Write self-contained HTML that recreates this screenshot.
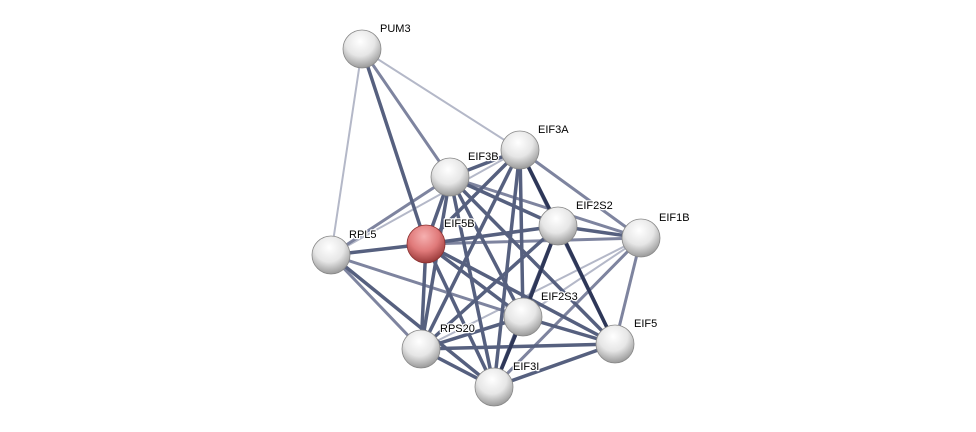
<!DOCTYPE html>
<html><head><style>
html,body{margin:0;padding:0;background:#fff;}
svg{display:block;}
text{font-family:"Liberation Sans",sans-serif;font-size:11px;fill:#000;stroke:#fff;stroke-width:2.5px;paint-order:stroke;stroke-linejoin:round;}
</style></head><body>
<svg width="976" height="432" viewBox="0 0 976 432">
<defs>
<radialGradient id="g" cx="45%" cy="30%" r="70%">
<stop offset="0" stop-color="#ffffff"/><stop offset="0.55" stop-color="#e6e6e6"/><stop offset="1" stop-color="#9a9a9a"/>
</radialGradient>
<radialGradient id="r" cx="45%" cy="30%" r="70%">
<stop offset="0" stop-color="#f6b0b0"/><stop offset="0.55" stop-color="#e07a7a"/><stop offset="1" stop-color="#9a3a3a"/>
</radialGradient>
</defs>
<g stroke-linecap="round">
<g stroke="#b4b8c8" stroke-width="2">
<line x1="362" y1="49" x2="520" y2="150"/>
<line x1="362" y1="49" x2="331" y2="255"/>
<line x1="331" y1="255" x2="520" y2="150"/>
<line x1="421" y1="349" x2="641" y2="238"/>
<line x1="523" y1="317" x2="641" y2="238"/>
</g>
<g stroke="#7e849f" stroke-width="3">
<line x1="362" y1="49" x2="450" y2="177"/>
<line x1="331" y1="255" x2="450" y2="177"/>
<line x1="331" y1="255" x2="523" y2="317"/>
<line x1="331" y1="255" x2="421" y2="349"/>
<line x1="641" y1="238" x2="615" y2="344"/>
<line x1="520" y1="150" x2="641" y2="238"/>
<line x1="450" y1="177" x2="641" y2="238"/>
<line x1="426" y1="244" x2="641" y2="238"/>
<line x1="494" y1="387" x2="641" y2="238"/>
</g>
<g stroke="#56607f" stroke-width="3.5">
<line x1="362" y1="49" x2="426" y2="244"/>
<line x1="331" y1="255" x2="426" y2="244"/>
<line x1="331" y1="255" x2="494" y2="387"/>
<line x1="450" y1="177" x2="520" y2="150"/>
<line x1="450" y1="177" x2="426" y2="244"/>
<line x1="450" y1="177" x2="558" y2="226"/>
<line x1="450" y1="177" x2="523" y2="317"/>
<line x1="450" y1="177" x2="615" y2="344"/>
<line x1="450" y1="177" x2="421" y2="349"/>
<line x1="450" y1="177" x2="494" y2="387"/>
<line x1="520" y1="150" x2="426" y2="244"/>
<line x1="520" y1="150" x2="558" y2="226"/>
<line x1="520" y1="150" x2="523" y2="317"/>
<line x1="520" y1="150" x2="421" y2="349"/>
<line x1="520" y1="150" x2="494" y2="387"/>
<line x1="520" y1="150" x2="615" y2="344"/>
<line x1="426" y1="244" x2="558" y2="226"/>
<line x1="426" y1="244" x2="523" y2="317"/>
<line x1="426" y1="244" x2="615" y2="344"/>
<line x1="426" y1="244" x2="421" y2="349"/>
<line x1="426" y1="244" x2="494" y2="387"/>
<line x1="558" y1="226" x2="641" y2="238"/>
<line x1="558" y1="226" x2="523" y2="317"/>
<line x1="558" y1="226" x2="421" y2="349"/>
<line x1="558" y1="226" x2="494" y2="387"/>
<line x1="523" y1="317" x2="615" y2="344"/>
<line x1="523" y1="317" x2="421" y2="349"/>
<line x1="523" y1="317" x2="494" y2="387"/>
<line x1="421" y1="349" x2="615" y2="344"/>
<line x1="421" y1="349" x2="494" y2="387"/>
<line x1="494" y1="387" x2="615" y2="344"/>
</g>
<g stroke="#2e3758" stroke-width="3.5">
<line x1="520" y1="150" x2="558" y2="226"/>
<line x1="558" y1="226" x2="615" y2="344"/>
<line x1="558" y1="226" x2="523" y2="317"/>
<line x1="523" y1="317" x2="494" y2="387"/>
</g>
</g>
<g stroke="#888" stroke-width="0.8">
<circle cx="362" cy="49" r="19" fill="url(#g)"/>
<circle cx="520" cy="150" r="19" fill="url(#g)"/>
<circle cx="450" cy="177" r="19" fill="url(#g)"/>
<circle cx="426" cy="244" r="19" fill="url(#r)" stroke="#8a3030"/>
<circle cx="331" cy="255" r="19" fill="url(#g)"/>
<circle cx="558" cy="226" r="19" fill="url(#g)"/>
<circle cx="641" cy="238" r="19" fill="url(#g)"/>
<circle cx="523" cy="317" r="19" fill="url(#g)"/>
<circle cx="615" cy="344" r="19" fill="url(#g)"/>
<circle cx="421" cy="349" r="19" fill="url(#g)"/>
<circle cx="494" cy="387" r="19" fill="url(#g)"/>
</g>
<text x="380" y="32">PUM3</text>
<text x="538" y="133">EIF3A</text>
<text x="468" y="160">EIF3B</text>
<text x="444" y="227">EIF5B</text>
<text x="349" y="238">RPL5</text>
<text x="576" y="209">EIF2S2</text>
<text x="659" y="221">EIF1B</text>
<text x="541" y="300">EIF2S3</text>
<text x="634" y="327">EIF5</text>
<text x="440" y="332">RPS20</text>
<text x="513" y="370">EIF3I</text>
</svg>
</body></html>
